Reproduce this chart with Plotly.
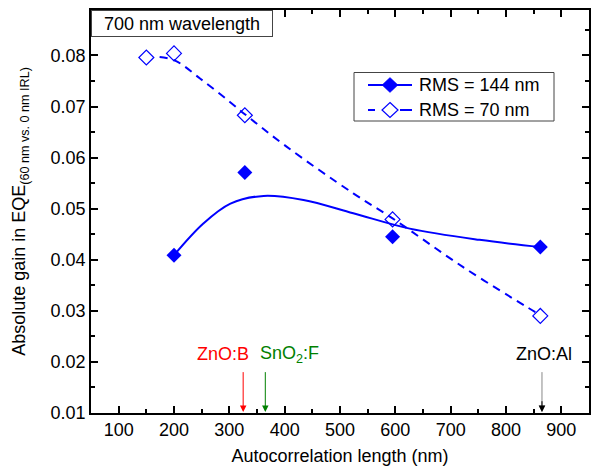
import plotly.graph_objects as go

# ---- data ----
rms144_x = [200, 328, 595, 862]
rms144_y = [0.0409, 0.0571, 0.0445, 0.0425]
rms70_x = [150, 200, 328, 595, 862]
rms70_y = [0.0796, 0.0804, 0.0683, 0.0479, 0.0290]

# smooth fit curves
fit144_x = [200, 253, 302, 362, 434, 524, 626, 752, 862]
fit144_y = [0.0409, 0.0471, 0.0510, 0.0525, 0.0517, 0.0491, 0.0461, 0.0439, 0.0425]
fit70_x = [174, 202, 247, 301, 328, 404, 524, 595, 722, 837, 862]
fit70_y = [0.0797, 0.0790, 0.0755, 0.0709, 0.0685, 0.0621, 0.0530, 0.0481, 0.0386, 0.0308, 0.0292]

series_names = ["RMS = 144 nm", "RMS = 70 nm"]

x_ticks = [100, 200, 300, 400, 500, 600, 700, 800, 900]
y_ticks = [0.01, 0.02, 0.03, 0.04, 0.05, 0.06, 0.07, 0.08]
y_ticklabels = ["0.01", "0.02", "0.03", "0.04", "0.05", "0.06", "0.07", "0.08"]

tco_names = ["ZnO:B", "SnO<sub>2</sub>:F", "ZnO:Al"]
tco_x = [325, 365, 865]
tco_label_x = [289, 409, 869]
tco_colors = ["#FF0000", "#008000", "#000000"]
tco_line_colors = ["#FF0000", "#008000", "#888888"]

FONT = "Liberation Sans, Arial, sans-serif"
BLUE = "#0000FF"

W, H = 591, 466
ML, MR, MT, MB = 91, 2, 10, 53
PW, PH = W - ML - MR, H - MT - MB


def px2x(px):
    return (px - ML) / PW


def px2y(py):
    return 1 - (py - MT) / PH


fig = go.Figure()
fig.add_trace(go.Scatter(x=fit144_x, y=fit144_y, mode="lines", line=dict(color=BLUE, width=2, shape="spline"),
                         showlegend=False, hoverinfo="skip"))
fig.add_trace(go.Scatter(x=fit70_x, y=fit70_y, mode="lines",
                         line=dict(color=BLUE, width=2, shape="spline", dash="8px,6px"),
                         showlegend=False, hoverinfo="skip"))
fig.add_trace(go.Scatter(x=rms144_x, y=rms144_y, mode="markers", name=series_names[0],
                         marker=dict(symbol="diamond", size=11.5, color=BLUE, line=dict(width=0)),
                         showlegend=False))
fig.add_trace(go.Scatter(x=rms70_x, y=rms70_y, mode="markers", name=series_names[1],
                         marker=dict(symbol="diamond-open", size=11.5, color=BLUE, line=dict(width=1.2)),
                         showlegend=False))

# TCO arrows and labels
for name, xa, xl, c, lc in zip(tco_names, tco_x, tco_label_x, tco_colors, tco_line_colors):
    fig.add_annotation(x=xa, y=0.0102, ax=xa, ay=0.0183, xref="x", yref="y", axref="x", ayref="y",
                       showarrow=True, arrowhead=2, arrowsize=1.3, arrowwidth=1, arrowcolor=lc, text="")
    if lc != c:
        fig.add_annotation(x=xa, y=0.0102, ax=xa, ay=0.0126, xref="x", yref="y", axref="x", ayref="y",
                           showarrow=True, arrowhead=2, arrowsize=1.3, arrowwidth=1, arrowcolor=c, text="")
    fig.add_annotation(x=xl, y=0.0215, xref="x", yref="y", text=name, showarrow=False,
                       font=dict(family=FONT, size=18, color=c), xanchor="center", yanchor="middle")

# wavelength label box
fig.add_annotation(x=0, y=1, xref="paper", yref="paper", xanchor="left", yanchor="top",
                   text="700 nm wavelength", showarrow=False, font=dict(family=FONT, size=18, color="black"),
                   bgcolor="white", bordercolor="#444", borderwidth=1, borderpad=2, width=176, height=21)

# legend drawn by hand (box, sample lines, diamonds, labels)
lx0, lx1, ly0, ly1 = 354, 554, 72.5, 121
fig.add_shape(type="rect", xref="paper", yref="paper", x0=px2x(lx0), x1=px2x(lx1), y0=px2y(ly1), y1=px2y(ly0),
              line=dict(color="#444", width=1), fillcolor="white", layer="above")
rows = [85, 110]
sx0, sx1, scx = 368, 412, 390
fig.add_shape(type="line", xref="paper", yref="paper", x0=px2x(sx0), x1=px2x(sx1), y0=px2y(rows[0]), y1=px2y(rows[0]),
              line=dict(color=BLUE, width=2), layer="above")
fig.add_shape(type="line", xref="paper", yref="paper", x0=px2x(sx0), x1=px2x(375), y0=px2y(rows[1]), y1=px2y(rows[1]),
              line=dict(color=BLUE, width=2), layer="above")
fig.add_shape(type="line", xref="paper", yref="paper", x0=px2x(400), x1=px2x(sx1), y0=px2y(rows[1]), y1=px2y(rows[1]),
              line=dict(color=BLUE, width=2), layer="above")


def diamond_path(cx, cy, hw, hh):
    pts = [(cx, cy - hh), (cx + hw, cy), (cx, cy + hh), (cx - hw, cy)]
    return "M " + " L ".join(f"{px2x(a):.5f},{px2y(b):.5f}" for a, b in pts) + " Z"


fig.add_shape(type="path", xref="paper", yref="paper", path=diamond_path(scx, rows[0], 8, 7.5),
              fillcolor=BLUE, line=dict(color=BLUE, width=0.5), layer="above")
fig.add_shape(type="path", xref="paper", yref="paper", path=diamond_path(scx, rows[1], 8, 7.5),
              fillcolor="white", line=dict(color=BLUE, width=1.2), layer="above")
for name, ry in zip(series_names, rows):
    fig.add_annotation(x=px2x(417), y=px2y(ry), xref="paper", yref="paper", xanchor="left", yanchor="middle",
                       text=name, showarrow=False, font=dict(family=FONT, size=18, color="black"))

axis_common = dict(showline=True, linecolor="black", linewidth=1.5, mirror="allticks", automargin=False,
                   ticks="inside", ticklen=7, tickwidth=1.5, tickcolor="black", showgrid=False, zeroline=False,
                   tickfont=dict(family=FONT, size=18, color="black"))
fig.update_xaxes(range=[50, 950], tickvals=x_ticks,
                 minor=dict(ticks="inside", ticklen=4, tickwidth=1.5, dtick=50, tick0=50, tickcolor="black"),
                 title=dict(text="Autocorrelation length (nm)", font=dict(family=FONT, size=18, color="black"),
                            standoff=12),
                 **axis_common)
fig.update_yaxes(range=[0.01, 0.0889], tickvals=y_ticks, ticktext=y_ticklabels,
                 minor=dict(ticks="inside", ticklen=4, tickwidth=1.5, dtick=0.005, tick0=0.01, tickcolor="black"),
                 title=dict(text="Absolute gain in EQE<sub>(60 nm vs. 0 nm IRL)</sub>",
                            font=dict(family=FONT, size=18, color="black"), standoff=20),
                 **axis_common)

fig.update_layout(width=W, height=H, margin=dict(l=ML, r=MR, t=MT, b=MB, autoexpand=False),
                  plot_bgcolor="white", paper_bgcolor="white",
                  font=dict(family=FONT, size=18, color="black"),
                  showlegend=False)

fig.write_html("out.html", config={"displayModeBar": False},
               post_script="document.body.style.margin='0';")
